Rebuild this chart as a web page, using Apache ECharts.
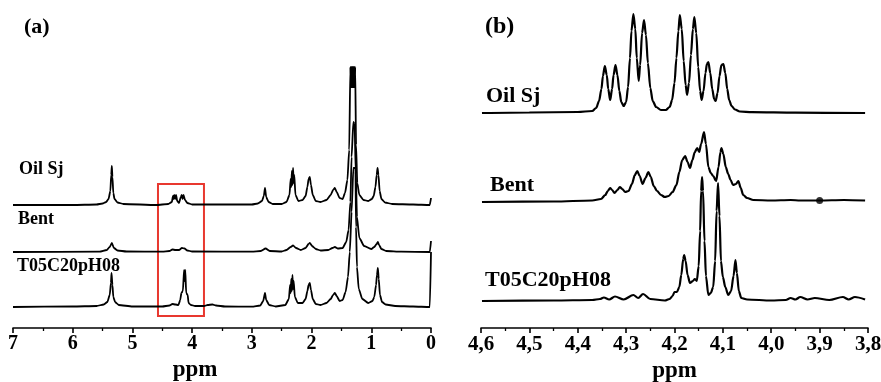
<!DOCTYPE html>
<html>
<head>
<meta charset="utf-8">
<script src="https://cdn.jsdelivr.net/npm/echarts@6/dist/echarts.min.js"></script>
<style>
  html, body { margin: 0; padding: 0; background: #fff; }
  #chart { width: 881px; height: 382px; }
</style>
</head>
<body>
<div id="chart"></div>
<script>
// ppm / intensity pairs (a.u.)
const oilA = [
  [7.0, 0], [6.0, 0], [5.6, 0.5], [5.5, 1.5], [5.44, 3], [5.4, 6], [5.37, 14], [5.355, 30], [5.345, 39],
  [5.335, 28], [5.32, 12], [5.3, 6], [5.25, 2.5], [5.15, 1], [4.6, 0], [4.4, 1], [4.34, 3], [4.32, 9],
  [4.31, 6], [4.3, 10], [4.285, 6], [4.27, 10], [4.25, 4], [4.22, 2], [4.19, 8], [4.175, 10], [4.16, 6],
  [4.145, 10], [4.12, 5], [4.08, 2], [4.0, 0.5], [3.0, 0.5], [2.9, 1.5], [2.83, 4], [2.8, 9], [2.78, 17],
  [2.76, 8], [2.72, 3], [2.65, 1], [2.5, 1], [2.42, 3], [2.37, 10], [2.35, 26], [2.34, 18], [2.33, 34],
  [2.32, 20], [2.31, 37], [2.3, 22], [2.29, 30], [2.27, 10], [2.22, 4], [2.15, 5], [2.1, 9], [2.07, 18],
  [2.05, 26], [2.03, 28], [2.01, 20], [1.98, 10], [1.93, 4], [1.85, 3], [1.75, 5], [1.68, 10], [1.64, 15],
  [1.61, 17], [1.58, 13], [1.53, 7], [1.48, 6], [1.44, 12], [1.4, 25], [1.37, 55], [1.35, 138],
  [1.345, 118], [1.34, 138], [1.335, 118], [1.33, 138], [1.325, 118], [1.32, 138], [1.315, 118],
  [1.31, 138], [1.305, 118], [1.3, 138], [1.295, 118], [1.29, 138], [1.285, 118], [1.28, 138],
  [1.275, 118], [1.27, 138], [1.255, 60], [1.235, 22], [1.2, 10], [1.13, 5], [1.05, 4],
  [0.99, 6], [0.96, 9], [0.93, 18], [0.91, 30], [0.895, 37], [0.88, 30], [0.86, 14], [0.83, 6],
  [0.77, 2.5], [0.65, 1], [0.3, 0.5], [0.02, 0], [0.0, 7],
];
const bentA = [
  [7.0, 0], [5.55, 0.3], [5.43, 2], [5.38, 5], [5.345, 9], [5.31, 4], [5.25, 1.5], [5.1, 0.5], [4.5, 0.3],
  [4.38, 1], [4.33, 2.5], [4.28, 2], [4.22, 2], [4.17, 4], [4.13, 3.5], [4.08, 1.5], [4.0, 0.5], [3.0, 0.3],
  [2.85, 1], [2.77, 3.5], [2.7, 1], [2.5, 0.5], [2.42, 2], [2.35, 5], [2.31, 6.5], [2.26, 4], [2.18, 2],
  [2.1, 4], [2.05, 8], [2.03, 9], [1.99, 6], [1.93, 3], [1.85, 1.5], [1.72, 2], [1.65, 4], [1.61, 5],
  [1.56, 3.5], [1.48, 4], [1.42, 10], [1.38, 22], [1.35, 50], [1.33, 95], [1.3, 130], [1.28, 128],
  [1.26, 80], [1.24, 35], [1.2, 14], [1.12, 6], [1.0, 3], [0.95, 5], [0.91, 8], [0.89, 10], [0.87, 7],
  [0.83, 3], [0.75, 1], [0.5, 0.3], [0.02, 0], [0.0, 11],
];
const t05A = [
  [7.0, 0], [6.0, 0.5], [5.6, 1], [5.48, 2.5], [5.42, 5], [5.38, 12], [5.36, 24], [5.35, 34], [5.335, 22],
  [5.32, 10], [5.29, 5], [5.23, 2], [5.0, 0.5], [4.5, 0.5], [4.38, 1.5], [4.33, 3], [4.28, 2.5],
  [4.23, 2], [4.2, 7], [4.18, 14], [4.155, 16], [4.135, 37], [4.125, 26], [4.115, 37], [4.1, 14],
  [4.075, 12], [4.06, 4], [4.02, 2], [3.95, 1], [3.8, 1], [3.74, 2], [3.66, 2.5], [3.6, 1.5],
  [3.45, 0.5], [3.0, 0.3], [2.86, 1.5], [2.81, 6], [2.78, 14], [2.76, 7], [2.71, 2], [2.6, 0.5],
  [2.44, 2], [2.38, 8], [2.36, 22], [2.35, 14], [2.34, 28], [2.33, 16], [2.32, 32], [2.31, 18],
  [2.3, 26], [2.28, 10], [2.23, 4], [2.15, 4], [2.1, 8], [2.07, 16], [2.05, 22], [2.03, 24], [2.01, 17],
  [1.98, 8], [1.93, 3], [1.85, 2], [1.75, 4], [1.68, 8], [1.64, 12], [1.61, 14], [1.58, 11], [1.53, 6],
  [1.48, 7], [1.43, 15], [1.39, 30], [1.36, 55], [1.33, 95], [1.3, 139], [1.28, 139], [1.265, 139],
  [1.255, 80], [1.24, 40], [1.21, 18], [1.15, 8], [1.05, 4], [0.98, 6], [0.95, 10], [0.92, 22],
  [0.905, 32], [0.89, 39], [0.875, 28], [0.855, 12], [0.82, 5], [0.76, 2.5], [0.6, 1], [0.3, 0.5],
  [0.02, 0], [0.0, 55],
];

const oilB = [
  [4.598, 0], [4.5, 0.5], [4.4, 1], [4.37, 2], [4.362, 5], [4.356, 12], [4.351, 24], [4.348, 37],
  [4.344, 47], [4.34, 38], [4.337, 24], [4.333, 13], [4.329, 24], [4.326, 38], [4.322, 48], [4.318, 38],
  [4.314, 22], [4.31, 11], [4.305, 7], [4.3, 11], [4.296, 26], [4.292, 55], [4.289, 82], [4.285, 99],
  [4.281, 84], [4.278, 55], [4.274, 32], [4.271, 48], [4.267, 80], [4.263, 93], [4.259, 78], [4.255, 50],
  [4.25, 25], [4.245, 12], [4.238, 6], [4.228, 3], [4.218, 3], [4.21, 6], [4.205, 13], [4.2, 30],
  [4.196, 55], [4.192, 82], [4.189, 98], [4.185, 84], [4.181, 52], [4.177, 28], [4.174, 18], [4.17, 30],
  [4.166, 58], [4.162, 84], [4.159, 96], [4.155, 80], [4.151, 46], [4.147, 22], [4.144, 13], [4.14, 22],
  [4.136, 40], [4.133, 49], [4.13, 51], [4.126, 40], [4.122, 24], [4.118, 14], [4.115, 12], [4.111, 20],
  [4.107, 37], [4.103, 48], [4.099, 49], [4.095, 40], [4.091, 24], [4.087, 13], [4.082, 7], [4.075, 3.5],
  [4.065, 1.5], [4.04, 0.8], [3.95, 0.3], [3.806, 0],
];
const bentB = [
  [4.598, 0], [4.45, 0.5], [4.37, 1.5], [4.352, 3], [4.343, 7], [4.338, 11], [4.333, 14], [4.329, 12],
  [4.324, 9], [4.318, 12], [4.313, 15], [4.308, 13], [4.302, 10], [4.295, 11], [4.288, 18], [4.282, 27],
  [4.277, 31], [4.272, 26], [4.266, 18], [4.26, 24], [4.254, 30], [4.249, 25], [4.243, 16], [4.236, 11],
  [4.228, 7], [4.22, 5], [4.212, 6], [4.204, 10], [4.196, 17], [4.19, 30], [4.184, 42], [4.178, 46],
  [4.173, 40], [4.168, 34], [4.163, 42], [4.158, 50], [4.153, 54], [4.149, 50], [4.145, 58], [4.139, 70],
  [4.135, 58], [4.13, 35], [4.125, 29], [4.12, 26], [4.114, 21], [4.109, 35], [4.105, 50], [4.103, 54],
  [4.099, 48], [4.094, 35], [4.089, 28], [4.084, 22], [4.079, 17], [4.073, 18], [4.068, 21], [4.063, 14],
  [4.058, 7], [4.05, 4], [4.037, 2], [4.0, 1.5], [3.96, 2], [3.94, 1.5], [3.9, 1.5], [3.85, 2], [3.806, 1.5],
];
const t05B = [
  [4.598, 0], [4.45, 0.5], [4.37, 1], [4.354, 2], [4.346, 3.5], [4.335, 1.5], [4.323, 4.5], [4.305, 1.5],
  [4.285, 6], [4.275, 3], [4.265, 7], [4.25, 2], [4.22, 0.5], [4.21, 2], [4.204, 5], [4.2, 9], [4.195, 9],
  [4.19, 14], [4.186, 26], [4.182, 42], [4.18, 46], [4.177, 40], [4.173, 26], [4.168, 18], [4.162, 20],
  [4.158, 22], [4.154, 20], [4.15, 35], [4.147, 70], [4.145, 110], [4.143, 124], [4.141, 110], [4.138, 60],
  [4.135, 25], [4.13, 6], [4.125, 8], [4.12, 14], [4.116, 40], [4.113, 90], [4.11, 118], [4.107, 85],
  [4.104, 40], [4.1, 24], [4.095, 14], [4.089, 6], [4.083, 10], [4.078, 25], [4.074, 41], [4.071, 28],
  [4.067, 10], [4.062, 3], [4.05, 1.5], [4.0, 0.5], [3.97, 1], [3.96, 3], [3.95, 1.5], [3.94, 4],
  [3.925, 1.5], [3.91, 3], [3.88, 1], [3.852, 4], [3.84, 1.5], [3.827, 4], [3.806, 1.5],
];
const dotB = [[3.9, 1.5]];

// stacking offsets of each trace (oil, bent, t05)
const baseA = [123, 76, 21];
const baseB = [215, 126, 27];
const namesA = ['Oil Sj', 'Bent', 'T05C20pH08'];
const ticksB = ['4,6', '4,5', '4,4', '4,3', '4,2', '4,1', '4,0', '3,9', '3,8'];

const font = 'Liberation Serif';
const lift = (arr, b) => arr.map(([x, h]) => [x, h + b]);

const makeX = (idx, min, max, interval, fmt, nameShift) => ({
  type: 'value',
  gridIndex: idx,
  min,
  max,
  interval,
  inverse: true,
  name: 'ppm',
  nameLocation: 'middle',
  nameGap: 30,
  nameTextStyle: {
    fontFamily: font, fontWeight: 'bold', fontSize: 23, color: '#000',
    padding: [0, nameShift, 0, 0],
  },
  axisLine: { onZero: false, lineStyle: { color: '#000', width: 1.6 } },
  axisTick: { show: true, length: 5, lineStyle: { color: '#000', width: 1.6 } },
  minorTick: { show: true, splitNumber: 2, length: 3, lineStyle: { color: '#000', width: 1.3 } },
  axisLabel: {
    fontFamily: font, fontWeight: 'bold', fontSize: idx ? 21 : 20, color: '#000', margin: 6,
    showMinLabel: true, showMaxLabel: true, formatter: fmt,
  },
  splitLine: { show: false },
});

const makeY = idx => ({
  type: 'value', gridIndex: idx, min: 0, max: 328, show: false,
});

const trace = (data, xi, smooth, width) => ({
  type: 'line',
  xAxisIndex: xi,
  yAxisIndex: xi,
  data,
  showSymbol: false,
  smooth,
  smoothMonotone: 'x',
  lineStyle: { color: '#000', width },
  silent: true,
  animation: false,
});

const seriesA = [oilA, bentA, t05A].map((d, i) => trace(lift(d, baseA[i]), 0, 0.2, 1.8));
seriesA[0].markArea = {
  silent: true,
  itemStyle: { color: 'rgba(0,0,0,0)', borderColor: '#e8382f', borderWidth: 2 },
  data: [[{ coord: [4.572, 144] }, { coord: [3.802, 12] }]],
};
const seriesB = [oilB, bentB, t05B].map((d, i) => trace(lift(d, baseB[i]), 1, 0.3, 2.2));
seriesB.push({
  type: 'scatter',
  xAxisIndex: 1,
  yAxisIndex: 1,
  data: lift(dotB, baseB[1]),
  symbolSize: 7,
  itemStyle: { color: '#000' },
  silent: true,
  animation: false,
});

const label = (text, x, y, size) => ({
  type: 'text',
  left: x,
  top: y - size / 2,
  style: { text, fontFamily: font, fontWeight: 'bold', fontSize: size, fill: '#000' },
});

const option = {
  backgroundColor: '#fff',
  animation: false,
  grid: [
    { left: 13, right: 450, top: 0, bottom: 54, outerBoundsMode: 'none' },
    { left: 481, right: 13, top: 0, bottom: 54, outerBoundsMode: 'none' },
  ],
  xAxis: [
    makeX(0, 0, 7, 1, v => String(v), 54),
    makeX(1, 3.8, 4.6, 0.1, v => ticksB[Math.round((4.6 - v) * 10)] || '', 0),
  ],
  yAxis: [makeY(0), makeY(1)],
  series: seriesA.concat(seriesB),
  graphic: [
    label('(a)', 24, 27, 22),
    label(namesA[0], 19, 169, 18),
    label(namesA[1], 18, 219, 18),
    label(namesA[2], 17, 266, 18),
    label('(b)', 485, 27, 24),
    label(namesA[0], 486, 96, 22),
    label(namesA[1], 490, 185, 22),
    label(namesA[2], 485, 280, 22),
  ],
};

const chart = echarts.init(document.getElementById('chart'));
chart.setOption(option);
</script>
</body>
</html>
